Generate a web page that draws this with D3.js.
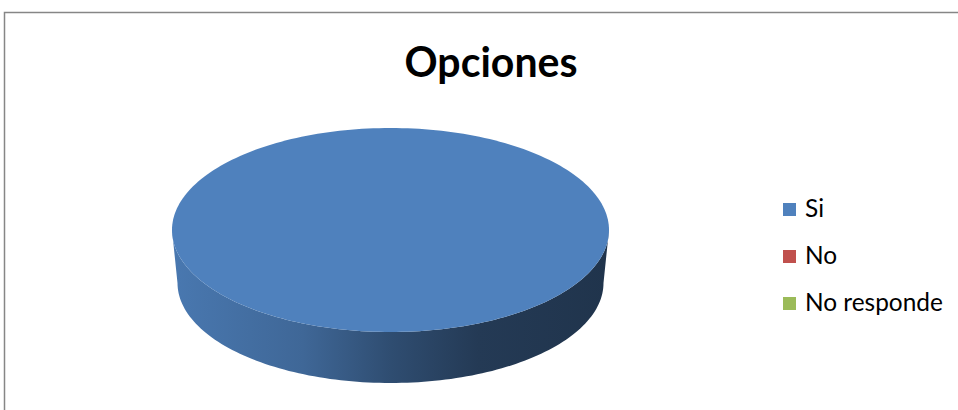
<!DOCTYPE html>
<html><head><meta charset="utf-8">
<script src="https://cdn.jsdelivr.net/npm/d3@7"></script>
<style>html,body{margin:0;padding:0;background:#fff;}svg{display:block;}</style>
</head><body>
<svg id="c" width="958" height="410"></svg>
<script>
const title = "Opciones";
const categories = ["Si", "No", "No responde"];
const values = [100, 0, 0];
const colors = ["#4f81bd", "#c0504d", "#9bbb59"];

(function () {
const svg = d3.select("#c");
const W = 958, H = 410;
svg.append("rect").attr("width", W).attr("height", H).attr("fill", "#fff");
svg.append("rect").attr("x", 4.5).attr("y", 12.5).attr("width", 1000).attr("height", 500)
  .attr("fill", "none").attr("stroke", "#868686").attr("stroke-width", 1.5);

const FONT = "Lato, 'Open Sans', 'Liberation Sans', sans-serif";
const t = svg.append("text").attr("x", 491).attr("y", 77).attr("text-anchor", "middle")
  .attr("font-family", FONT).attr("font-weight", "bold").attr("font-size", 34).attr("fill", "#000").text(title);
{ const w = t.node().getComputedTextLength(); t.attr("font-size", 34 * 173 / w); }

const topE = {cx: 390.5, cy: 230, rx: 218.5, ry: 102};
const botE = {cx: 390.5, cy: 283, rx: 213, ry: 100};
const pie = d3.pie().sort(null).value(d => d)(values);
const pt = (e, a) => [e.cx + e.rx * Math.sin(a), e.cy - e.ry * Math.cos(a)];

const defs = svg.append("defs");
function sideGrad(i, base) {
  const c = d3.rgb(base);
  const g = defs.append("linearGradient").attr("id", "sg" + i)
    .attr("gradientUnits", "userSpaceOnUse").attr("x1", topE.cx - topE.rx).attr("x2", topE.cx + topE.rx).attr("y1", 0).attr("y2", 0);
  const stops = [[0, 0.93], [0.3, 0.8], [0.5, 0.6], [0.7, 0.45], [1, 0.4]];
  stops.forEach(([o, k]) => {
    const cc = d3.rgb(c.r * k, c.g * k, c.b * k);
    g.append("stop").attr("offset", o).attr("stop-color", cc.formatHex());
  });
  return "url(#sg" + i + ")";
}
function arcPts(e, a0, a1, n) {
  const pts = [];
  for (let k = 0; k <= n; k++) pts.push(pt(e, a0 + (a1 - a0) * k / n));
  return pts;
}
pie.forEach((s, i) => {
  if (s.endAngle - s.startAngle <= 0) return;
  const a0 = Math.max(s.startAngle, Math.PI / 2), a1 = Math.min(s.endAngle, 3 * Math.PI / 2);
  if (a1 > a0) {
    const upper = arcPts(topE, a0, a1, 120);
    const lower = arcPts(botE, a1, a0, 120);
    svg.append("path").attr("d", d3.line()(upper.concat(lower)) + "Z").attr("fill", sideGrad(i, colors[i]));
  }
});
pie.forEach((s, i) => {
  if (s.endAngle - s.startAngle <= 0) return;
  const full = s.endAngle - s.startAngle >= 2 * Math.PI - 1e-9;
  const pts = arcPts(topE, s.startAngle, s.endAngle, 240);
  if (!full) pts.push([topE.cx, topE.cy]);
  svg.append("path").attr("d", d3.line()(pts) + "Z").attr("fill", colors[i]);
});

const ly = d3.scalePoint().domain(categories).range([209.5, 303.5]);
const lg = svg.append("g");
categories.forEach((c, i) => {
  lg.append("rect").attr("x", 783).attr("y", ly(c) - 6.5).attr("width", 13).attr("height", 13).attr("fill", colors[i]);
  lg.append("text").attr("class", "lt").attr("x", 805).attr("y", ly(c) + 7).attr("font-family", FONT)
    .attr("font-size", 20).attr("fill", "#000").text(c);
});
{
  const last = lg.selectAll("text.lt").nodes()[2];
  const w = last.getComputedTextLength();
  lg.selectAll("text.lt").attr("font-size", 20 * 138 / w);
}
})();
</script>
</body></html>
